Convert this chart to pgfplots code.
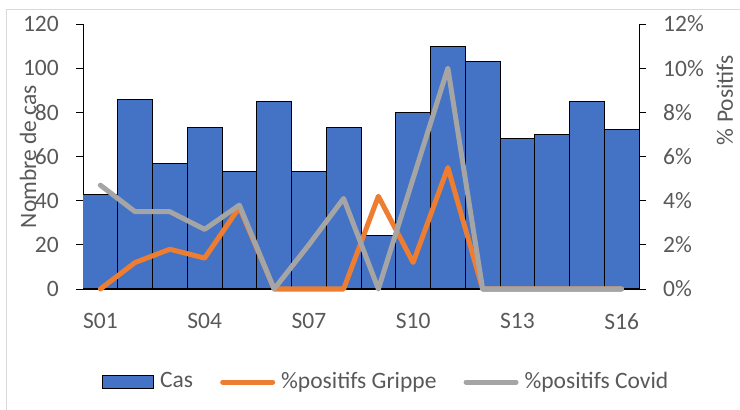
\documentclass[border=0pt]{standalone}
\usepackage{pgfplots}
\pgfplotsset{compat=1.18}
\usepackage{fontspec}
\setmainfont{Carlito}
\definecolor{cbar}{HTML}{4472C4}
\definecolor{corange}{HTML}{ED7D31}
\definecolor{cgray}{HTML}{A5A5A5}
\definecolor{ctext}{HTML}{595959}
\definecolor{cborder}{HTML}{D9D9D9}
\pgfplotsset{
  barlegend/.style={legend image code/.code={\draw[##1] (0.5bp,-6.5bp) rectangle (51.5bp,6.5bp);}},
  linelegend/.style={legend image code/.code={\draw[##1] (2.5bp,0bp) -- (52.5bp,0bp);}},
}
\begin{document}
\fontsize{23.5bp}{28bp}\selectfont
\color{ctext}
\begin{tikzpicture}
\useasboundingbox (0,0) rectangle (740bp,410bp);
\draw[cborder, line width=1bp] (6.5bp,-20bp) -- (6.5bp,400bp) -- (760bp,400bp);
\pgfplotsset{
  base/.style={
    scale only axis, width=556bp, height=265bp,
    at={(83bp,121bp)}, anchor=south west,
    xmin=0.5, xmax=16.5,
    /pgf/number format/assume math mode=true,
    tick align=outside, major tick length=7bp,
    tick style={black, line width=0.75bp},
    ticklabel style={font=\fontsize{23.5bp}{28bp}\selectfont, text=ctext, color=ctext},
    axis line style={black, line width=0.75bp},
  }
}
\begin{axis}[base,
  ymin=0, ymax=120, ytick={0,20,...,120},
  axis y line*=left, axis x line*=bottom,
  xtick={1,4,7,10,13,16},
  xticklabels={S01,S04,S07,S10,S13,S16},
  xtick style={draw=none},
  xticklabel style={anchor=north, inner sep=0pt, yshift=-17bp},
  yticklabel style={anchor=east, inner sep=0pt, xshift=-17bp},
  every axis y label/.style={at={(axis description cs:-0.0845,0.5)}, rotate=90, anchor=base,
     font=\fontsize{23.5bp}{28bp}\selectfont, text=ctext},
  ylabel={Nombre de cas},
]
\addplot[ybar, bar width=34.75bp, fill=cbar, draw=black, line width=1bp]
  coordinates {(1,43) (2,86) (3,57) (4,73) (5,53) (6,85) (7,53) (8,73)
               (9,24) (10,80) (11,110) (12,103) (13,68) (14,70) (15,85) (16,72)};
\end{axis}
\begin{axis}[base,
  ymin=0, ymax=12, ytick={0,2,...,12},
  axis y line*=right, axis x line=none,
  clip=false,
  yticklabel={\pgfmathprintnumber{\tick}\%},
  yticklabel style={anchor=west, inner sep=0pt, xshift=17bp},
  every axis y label/.style={at={(axis description cs:1.169,0.713)}, rotate=90, anchor=base,
     font=\fontsize{23.5bp}{28bp}\selectfont, text=ctext},
  ylabel={\% Positifs},
  legend columns=3,
  legend style={draw=none, fill=none, inner sep=0pt,
    at={(0.0342,-0.351)}, anchor=west,
    nodes={inner sep=0pt, text=ctext, font=\fontsize{23.5bp}{28bp}\selectfont},
    column sep=0pt,
    /tikz/every odd column/.append style={column sep=6bp},
    /tikz/every even column/.append style={column sep=27bp}},
]
\addlegendimage{fill=cbar, draw=black, line width=1bp, barlegend}
\addlegendentry{Cas}
\addplot[corange, line width=5bp, line cap=round, line join=round, linelegend]
  coordinates {(1,0) (2,1.2) (3,1.8) (4,1.4) (5,3.7) (6,0) (7,0) (8,0)
               (9,4.2) (10,1.2) (11,5.5) (12,0) (13,0) (14,0) (15,0) (16,0)};
\addlegendentry{\%positifs Grippe}
\addplot[cgray, line width=5bp, line cap=round, line join=round, linelegend]
  coordinates {(1,4.7) (2,3.5) (3,3.5) (4,2.7) (5,3.8) (6,0) (7,2.0) (8,4.1)
               (9,0) (10,5.0) (11,10.0) (12,0) (13,0) (14,0) (15,0) (16,0)};
\addlegendentry{\%positifs Covid}
\end{axis}
\end{tikzpicture}
\end{document}
